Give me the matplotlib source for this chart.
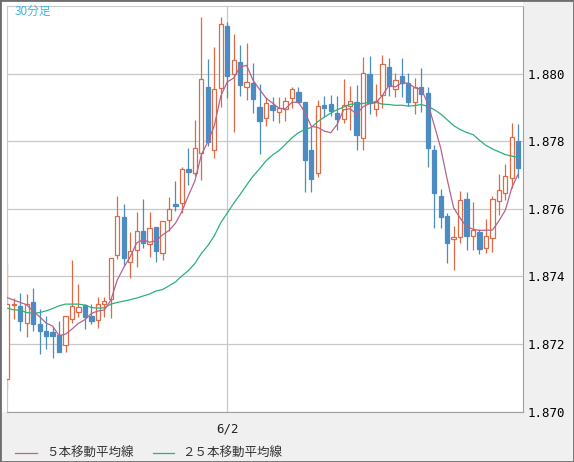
import matplotlib.pyplot as plt
import matplotlib.patches as patches
from matplotlib.lines import Line2D
import numpy as np
import pandas as pd

# 30-minute candles, 80 bars, bar 34 = 6/2 00:00
opens = [1.87096, 1.87314, 1.87313, 1.87263, 1.87325, 1.87260, 1.87239, 1.87236, 1.87227, 1.87196,
         1.87274, 1.87294, 1.87315, 1.87283, 1.87270, 1.87318, 1.87334, 1.87463, 1.87576, 1.87442,
         1.87479, 1.87535, 1.87496, 1.87547, 1.87469, 1.87566, 1.87615, 1.87617, 1.87719, 1.87706,
         1.87765, 1.87959, 1.87775, 1.87958, 1.88142, 1.87999, 1.88033, 1.87961, 1.87971, 1.87902,
         1.87868, 1.87906, 1.87886, 1.87895, 1.87927, 1.87947, 1.87917, 1.87773, 1.87706, 1.87908,
         1.87910, 1.87882, 1.87866, 1.87904, 1.87917, 1.87809, 1.88000, 1.87895, 1.87938, 1.88020,
         1.87955, 1.87994, 1.87972, 1.87916, 1.87959, 1.87944, 1.87775, 1.87639, 1.87579, 1.87510,
         1.87516, 1.87630, 1.87519, 1.87532, 1.87484, 1.87513, 1.87622, 1.87647, 1.87692, 1.87802]
highs = [1.87441, 1.87336, 1.87350, 1.87347, 1.87365, 1.87304, 1.87283, 1.87251, 1.87268, 1.87282,
         1.87449, 1.87378, 1.87319, 1.87319, 1.87339, 1.87340, 1.87454, 1.87639, 1.87615, 1.87532,
         1.87590, 1.87630, 1.87591, 1.87547, 1.87564, 1.87635, 1.87683, 1.87725, 1.87780, 1.87864,
         1.88167, 1.88044, 1.88080, 1.88166, 1.88154, 1.88118, 1.88086, 1.88091, 1.88030, 1.87970,
         1.87931, 1.87930, 1.87930, 1.87931, 1.87960, 1.87961, 1.87917, 1.87843, 1.87923, 1.87933,
         1.87938, 1.87933, 1.87984, 1.87962, 1.87967, 1.88048, 1.88051, 1.87970, 1.88056, 1.88047,
         1.88002, 1.88045, 1.88002, 1.87987, 1.88018, 1.87959, 1.87790, 1.87659, 1.87588, 1.87550,
         1.87653, 1.87650, 1.87620, 1.87539, 1.87569, 1.87639, 1.87703, 1.87733, 1.87855, 1.87850]
lows = [1.87066, 1.87274, 1.87237, 1.87222, 1.87237, 1.87171, 1.87186, 1.87160, 1.87177, 1.87177,
        1.87262, 1.87281, 1.87244, 1.87259, 1.87246, 1.87280, 1.87276, 1.87451, 1.87434, 1.87396,
        1.87427, 1.87485, 1.87456, 1.87444, 1.87449, 1.87533, 1.87594, 1.87589, 1.87671, 1.87698,
        1.87686, 1.87785, 1.87751, 1.87901, 1.87929, 1.87826, 1.87933, 1.87923, 1.87882, 1.87763,
        1.87846, 1.87861, 1.87855, 1.87861, 1.87899, 1.87914, 1.87651, 1.87651, 1.87694, 1.87872,
        1.87874, 1.87834, 1.87854, 1.87834, 1.87775, 1.87773, 1.87881, 1.87876, 1.87899, 1.87933,
        1.87931, 1.87930, 1.87905, 1.87879, 1.87887, 1.87724, 1.87542, 1.87542, 1.87441, 1.87419,
        1.87500, 1.87477, 1.87479, 1.87467, 1.87470, 1.87471, 1.87582, 1.87627, 1.87662, 1.87692]
closes = [1.87318, 1.87318, 1.87269, 1.87319, 1.87260, 1.87237, 1.87225, 1.87225, 1.87177, 1.87282,
          1.87312, 1.87310, 1.87279, 1.87269, 1.87318, 1.87327, 1.87454, 1.87579, 1.87454, 1.87475,
          1.87535, 1.87499, 1.87543, 1.87474, 1.87564, 1.87599, 1.87607, 1.87718, 1.87708, 1.87781,
          1.87984, 1.87799, 1.87955, 1.88147, 1.87992, 1.88041, 1.87965, 1.87976, 1.87925, 1.87859,
          1.87913, 1.87891, 1.87899, 1.87919, 1.87953, 1.87915, 1.87743, 1.87689, 1.87904, 1.87899,
          1.87890, 1.87867, 1.87906, 1.87918, 1.87817, 1.88002, 1.87913, 1.87920, 1.88027, 1.87962,
          1.87981, 1.87973, 1.87915, 1.87959, 1.87939, 1.87779, 1.87648, 1.87575, 1.87498, 1.87516,
          1.87627, 1.87521, 1.87536, 1.87480, 1.87519, 1.87629, 1.87656, 1.87696, 1.87813, 1.87721]

# averages before a full window is visible
ma5_head = [1.87337, 1.87330, 1.87323, 1.87316]
ma25_head = [1.87306, 1.87301, 1.87300, 1.87293, 1.87291, 1.87293, 1.87298, 1.87305, 1.87313, 1.87318,
             1.87318, 1.87318, 1.87315, 1.87308, 1.87306, 1.87307, 1.87318, 1.87323, 1.87327, 1.87331,
             1.87336, 1.87342, 1.87348, 1.87357]

yticks = [1.870, 1.872, 1.874, 1.876, 1.878, 1.880]
date_idx = 34
date_label = '6/2'
frame_label = '30分足'
legend_labels = ['５本移動平均線', '２５本移動平均線']

UP = '#dd6a45'
DOWN = '#4d8cc2'
MA5_C = '#b8628e'
MA25_C = '#2bb27a'

cl = pd.Series(closes)
ma5 = cl.rolling(5).mean().to_numpy()
ma5[:4] = ma5_head
ma25 = cl.rolling(25).mean().to_numpy()
ma25[:24] = ma25_head

W, H = 574, 462
fig = plt.figure(figsize=(W / 100, H / 100), dpi=100, facecolor='#f0f0f0')
# white panel behind the plot (left/top margins are white too)
fig.patches.append(patches.Rectangle((0, 1 - 411.6 / H), 523 / W, 411.6 / H,
                                     transform=fig.transFigure, facecolor='white',
                                     edgecolor='none', zorder=-5))
fig.patches.append(patches.Rectangle((0, 0), 1, 1, transform=fig.transFigure,
                                     facecolor='none', edgecolor='#6e6e6e', lw=2, zorder=10))

ax = fig.add_axes([7 / W, 1 - 411.6 / H, 516 / W, 405.6 / H])
ax.set_zorder(2)
ax.set_facecolor('white')

x = np.arange(len(closes))
bw = 0.66
for i in x:
    o, h, l, c = opens[i], highs[i], lows[i], closes[i]
    up = c >= o
    col = UP if up else DOWN
    ax.plot([i, i], [l, h], color=col, lw=0.9, zorder=2, solid_capstyle='butt')
    bot = min(o, c)
    ht = max(abs(c - o), 0.00003)
    ax.add_patch(patches.Rectangle((i - bw / 2, bot), bw, ht,
                                   facecolor='white' if up else DOWN,
                                   edgecolor=col, lw=0.9, zorder=3))

ax.plot(x, ma25, color=MA25_C, lw=0.9, zorder=4)
ax.plot(x, ma5, color=MA5_C, lw=0.9, zorder=5)

ax.set_xlim(-0.05, 79.73)
ax.set_ylim(1.870, 1.882)
ax.yaxis.tick_right()
ax.set_yticks(yticks)
ax.set_yticklabels(['%.3f' % v for v in yticks], family='DejaVu Sans Mono', fontsize=9)
ax.set_xticks([date_idx])
ax.set_xticklabels([date_label], family='DejaVu Sans Mono', fontsize=9, color='#222222')
ax.tick_params(axis='both', length=0)
ax.tick_params(axis='y', pad=3)
ax.tick_params(axis='x', pad=8)
ax.grid(True, color='#c8c8c8', lw=0.9, zorder=1)
ax.set_axisbelow(True)
for s in ['left', 'top']:
    ax.spines[s].set_color('#c8c8c8')
for s in ['right', 'bottom']:
    ax.spines[s].set_color('#a0a0a0')

ax.text(8 / 516, 1 - 5 / 405.6, frame_label, transform=ax.transAxes, ha='left', va='center',
        color='#3cb8ea', fontsize=8.5, family=['Noto Sans CJK JP', 'DejaVu Sans'])

# legend along the bottom
ly = (H - 453) / H
fig.lines.append(Line2D([15 / W, 37 / W], [ly, ly], transform=fig.transFigure, color=MA5_C, lw=0.9))
fig.text(46 / W, ly, legend_labels[0], ha='left', va='center', fontsize=9, color='#333333',
         family=['Noto Sans CJK JP', 'DejaVu Sans'])
fig.lines.append(Line2D([153 / W, 174 / W], [ly, ly], transform=fig.transFigure, color=MA25_C, lw=0.9))
fig.text(182 / W, ly, legend_labels[1], ha='left', va='center', fontsize=9, color='#333333',
         family=['Noto Sans CJK JP', 'DejaVu Sans'])

fig.savefig('out.png', dpi=100, facecolor=fig.get_facecolor())
